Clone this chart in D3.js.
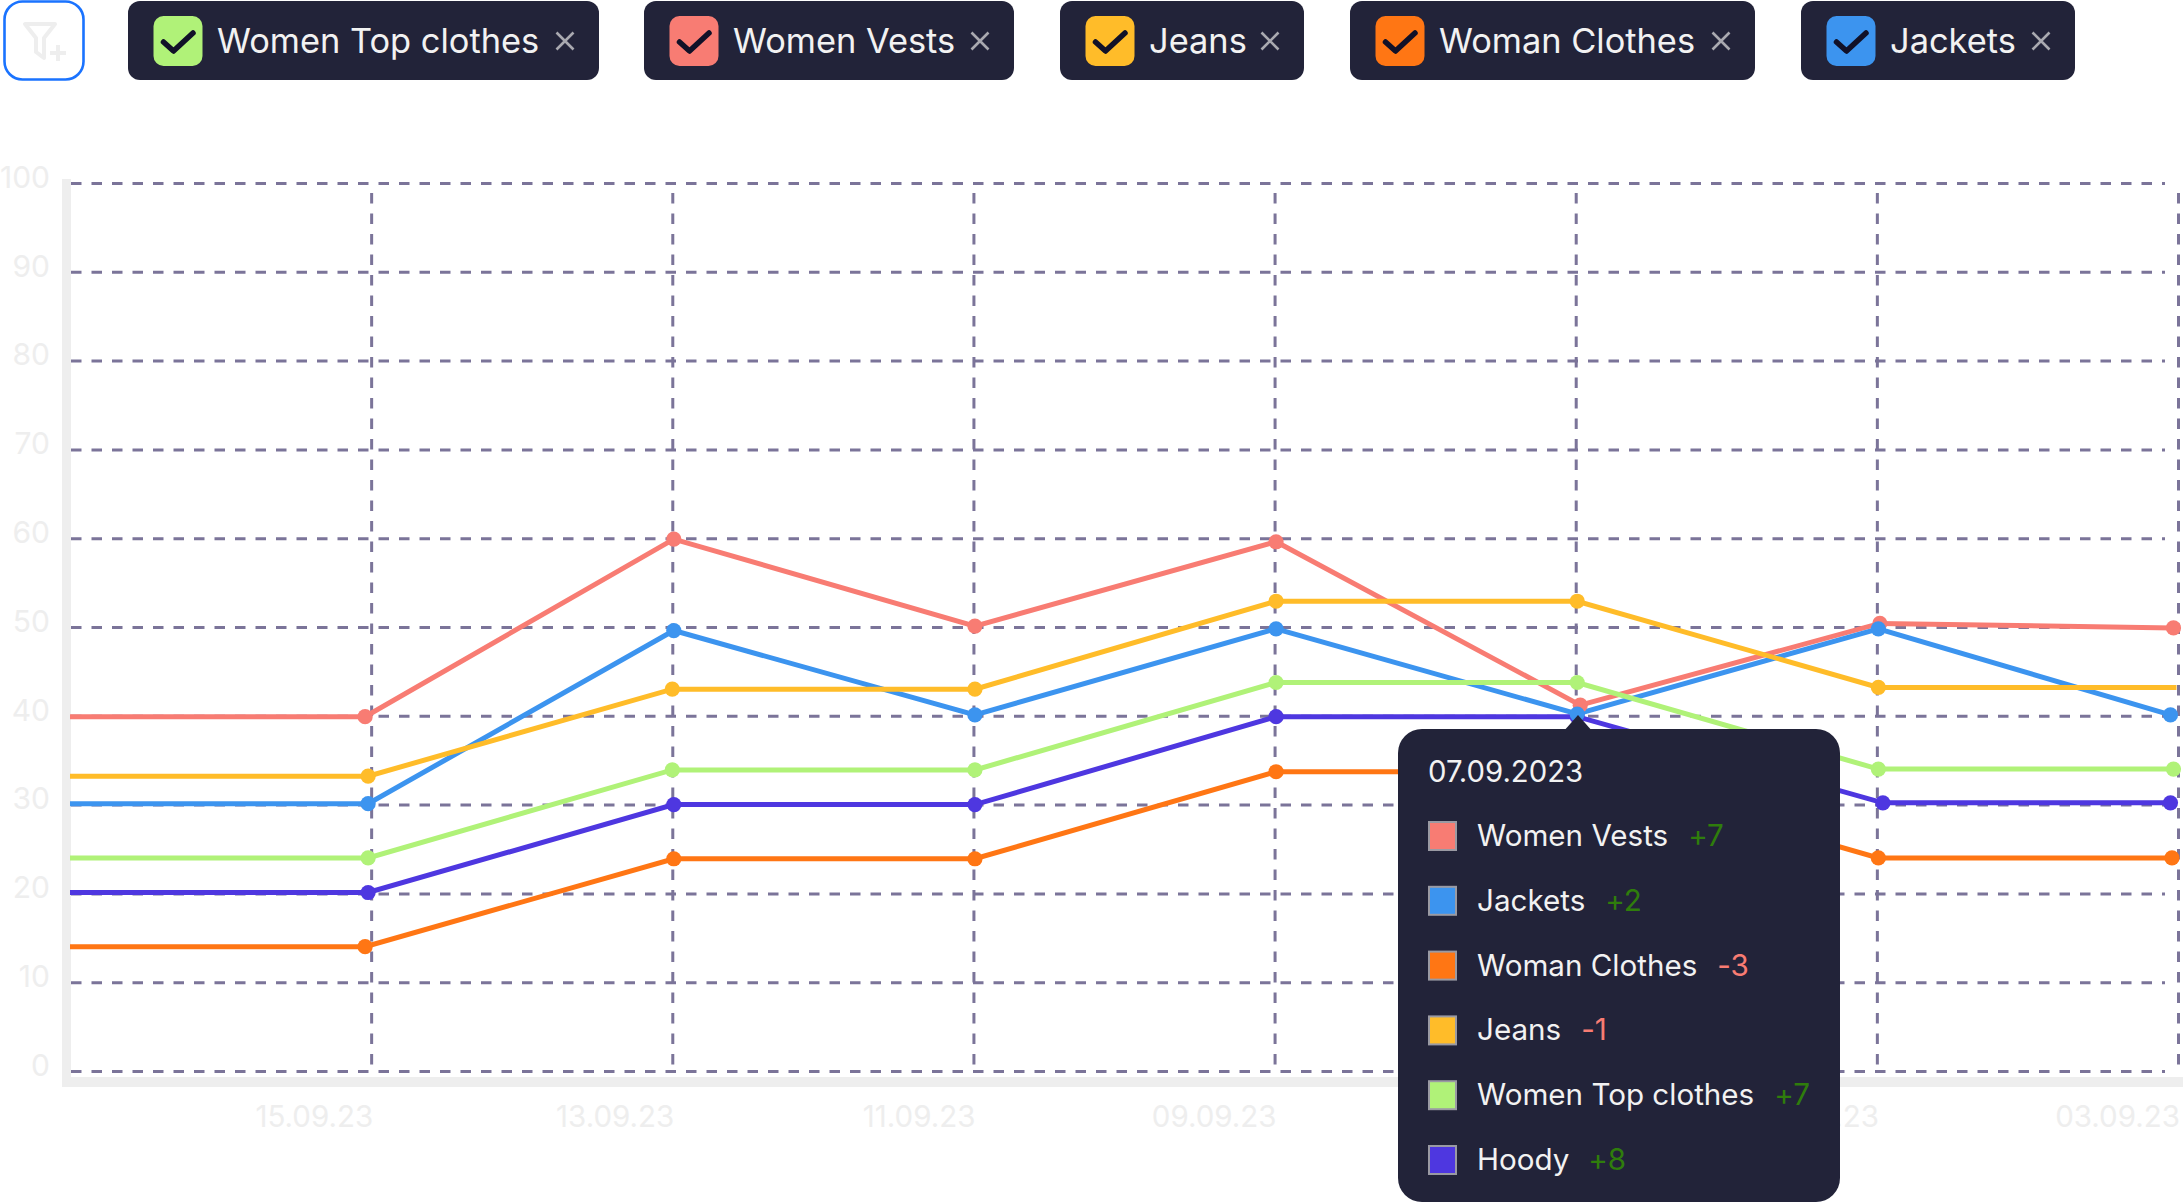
<!DOCTYPE html>
<html>
<head>
<meta charset="utf-8">
<title>Clothes chart</title>
<script src="https://cdnjs.cloudflare.com/ajax/libs/d3/7.8.5/d3.min.js"></script>
<style>
html, body { margin: 0; background: #fff; }
svg { display: block; font-family: Inter, sans-serif; }
.grid line { stroke: #7b7499; stroke-width: 3; stroke-dasharray: 10.5 10; }
.axis text { fill: #eeeeee; font-size: 30px; font-family: Inter, sans-serif; }
.axis path { display: none; }
</style>
</head>
<body>
<svg id="chart" width="2183" height="1203"></svg>
<script>
"use strict";

// day of september for each tick, newest on the left
var tickDays = [15, 13, 11, 9, 7, 5, 3];
var tickLabels = ["15.09.23", "13.09.23", "11.09.23", "09.09.23", "07.09.23", "05.09.23", "03.09.23"];
var yTicks = [0, 10, 20, 30, 40, 50, 60, 70, 80, 90, 100];

// series values (first point sits on the left edge)
var vestsDays = [17, 15.04, 12.99, 10.99, 8.99, 6.97, 4.98, 3.03];
var vestsValues = [39.9, 39.9, 59.9, 50.1, 59.6, 41.2, 50.4, 49.9];
var jacketsDays = [17, 15.02, 12.99, 10.99, 8.99, 6.99, 4.99, 3.05];
var jacketsValues = [30.1, 30.1, 49.6, 40.1, 49.8, 40.2, 49.8, 40.1];
var jeansDays = [17, 15.02, 13, 10.99, 8.99, 6.99, 4.99, 3.01];
var jeansValues = [33.2, 33.2, 43, 43, 52.9, 52.9, 43.2, 43.2];
var topDays = [17, 15.02, 13, 10.99, 8.99, 6.99, 4.99, 3.03];
var topValues = [24, 24, 33.9, 33.9, 43.75, 43.75, 34, 34];
var hoodyDays = [17, 15.02, 12.99, 10.99, 8.99, 6.99, 4.96, 3.05];
var hoodyValues = [20.1, 20.1, 30, 30, 39.9, 39.9, 30.2, 30.2];
var clothesDays = [17, 15.04, 12.99, 10.99, 8.99, 6.99, 4.99, 3.04];
var clothesValues = [14, 14, 23.9, 23.9, 33.7, 33.7, 24, 24];

// drawn in this order, later ones on top
var series = [
    {name: "Woman Clothes", color: "#ff7614", days: clothesDays, values: clothesValues},
    {name: "Hoody", color: "#4e37e0", days: hoodyDays, values: hoodyValues},
    {name: "Women Vests", color: "#f87c73", days: vestsDays, values: vestsValues},
    {name: "Jackets", color: "#3c94ef", days: jacketsDays, values: jacketsValues},
    {name: "Jeans", color: "#ffbc29", days: jeansDays, values: jeansValues, noLastDot: true},
    {name: "Women Top clothes", color: "#b0f278", days: topDays, values: topValues}
];

// filter chips along the top
var chipNames = ["Women Top clothes", "Women Vests", "Jeans", "Woman Clothes", "Jackets"];
var chipColors = ["#b0f278", "#f87c73", "#ffbc29", "#ff7614", "#3c94ef"];
var chipLefts = [128, 644, 1060, 1350, 1801];
var chipRights = [599, 1014, 1304, 1755, 2075];

// tooltip rows
var tipDate = "07.09.2023";
var tipNames = ["Women Vests", "Jackets", "Woman Clothes", "Jeans", "Women Top clothes", "Hoody"];
var tipColors = ["#f87c73", "#3c94ef", "#ff7614", "#ffbc29", "#b0f278", "#4e37e0"];
var tipDeltas = ["+7", "+2", "-3", "-1", "+7", "+8"];

var dark = "#222339";
var svg = d3.select("#chart");

var x = d3.scaleLinear().domain([17, 3]).range([70, 2178]);
var y = d3.scaleLinear().domain([0, 100]).range([1071, 183]);

// light frame on the left and the bottom
svg.append("rect").attr("x", 62).attr("y", 179).attr("width", 9).attr("height", 908).attr("fill", "#eeeeee");
svg.append("rect").attr("x", 62).attr("y", 1077).attr("width", 2121).attr("height", 10).attr("fill", "#eeeeee");

var yAxis = d3.axisLeft(y).tickValues(yTicks).tickSize(-2094).tickPadding(0);
var yg = svg.append("g").attr("class", "axis grid").attr("transform", "translate(71,0)").call(yAxis);
yg.selectAll("text").attr("x", -21).attr("dy", "0.14em");

var xAxis = d3.axisBottom(x).tickValues(tickDays)
    .tickFormat(function(d, i) { return tickLabels[i]; })
    .tickSize(0);
var xg = svg.append("g").attr("class", "axis grid").attr("transform", "translate(0,1071)").call(xAxis);
xg.selectAll("line").attr("y1", -878).attr("y2", 0);
xg.selectAll("text").attr("text-anchor", "end").attr("x", 1.5).attr("y", 56).attr("dy", 0).style("font-size", "29.5px");

var line = d3.line()
    .x(function(d) { return x(d.day); })
    .y(function(d) { return y(d.value); });

function pointsOf(s) {
    return s.days.map(function(day, i) { return {day: day, value: s.values[i]}; });
}

svg.append("g").selectAll("path").data(series).enter()
    .append("path")
    .attr("fill", "none")
    .attr("stroke", function(s) { return s.color; })
    .attr("stroke-width", 5)
    .attr("d", function(s) { return line(pointsOf(s)); });

// no dot on the left edge, and jeans has none on the last day
svg.append("g").selectAll("g").data(series).enter()
    .append("g")
    .attr("fill", function(s) { return s.color; })
    .selectAll("circle")
    .data(function(s) {
        var pts = pointsOf(s).slice(1);
        return s.noLastDot ? pts.slice(0, -1) : pts;
    })
    .enter().append("circle")
    .attr("cx", function(d) { return x(d.day); })
    .attr("cy", function(d) { return y(d.value); })
    .attr("r", 7.6);

// filter button
var filterBtn = svg.append("g");
filterBtn.append("rect")
    .attr("x", 4.5).attr("y", 1.5).attr("width", 79).attr("height", 78).attr("rx", 18)
    .attr("fill", "#fff").attr("stroke", "#1a73ff").attr("stroke-width", 2.6);
filterBtn.append("path")
    .attr("d", "M25 24H55L44 38V58L36 52V38Z")
    .attr("fill", "none").attr("stroke", "#eeeeee").attr("stroke-width", 4).attr("stroke-linejoin", "round");
filterBtn.append("path")
    .attr("d", "M50 53H66M58 45V61")
    .attr("fill", "none").attr("stroke", "#eeeeee").attr("stroke-width", 4);

var chips = svg.append("g").selectAll("g").data(chipNames).enter()
    .append("g")
    .attr("transform", function(d, i) { return "translate(" + chipLefts[i] + ",1)"; });
chips.append("rect")
    .attr("width", function(d, i) { return chipRights[i] - chipLefts[i]; })
    .attr("height", 79).attr("rx", 12).attr("fill", dark);
chips.append("rect")
    .attr("x", 25.5).attr("y", 15).attr("width", 49).attr("height", 50).attr("rx", 10)
    .attr("fill", function(d, i) { return chipColors[i]; });
chips.append("path")
    .attr("d", "M35.5 41L45.5 50L65 32")
    .attr("fill", "none").attr("stroke", "#111128").attr("stroke-width", 5.5)
    .attr("stroke-linecap", "round").attr("stroke-linejoin", "round");
chips.append("text")
    .attr("x", 89).attr("y", 52)
    .attr("fill", "#f2f2f2").attr("font-size", 34.4)
    .text(function(d) { return d; });
chips.append("path")
    .attr("transform", function(d, i) { return "translate(" + (chipRights[i] - chipLefts[i] - 34) + ",40)"; })
    .attr("d", "M-8.5 -8.5L8.5 8.5M-8.5 8.5L8.5 -8.5")
    .attr("fill", "none").attr("stroke", "#a9a9b0").attr("stroke-width", 2.6);

// tooltip
var tip = svg.append("g");
tip.append("path").attr("d", "M1563 732L1578 715L1593 732Z").attr("fill", dark);
tip.append("rect")
    .attr("x", 1398).attr("y", 729).attr("width", 442).attr("height", 473).attr("rx", 24).attr("fill", dark);
tip.append("text")
    .attr("x", 1428).attr("y", 782)
    .attr("fill", "#f2f2f2").attr("font-size", 29.3)
    .text(tipDate);

var rows = tip.selectAll("g.row").data(tipNames).enter()
    .append("g").attr("class", "row")
    .attr("transform", function(d, i) { return "translate(0," + (821 + i * 64.8) + ")"; });
rows.append("rect")
    .attr("x", 1429).attr("y", 1).attr("width", 27).attr("height", 28)
    .attr("fill", function(d, i) { return tipColors[i]; })
    .attr("stroke", "#9a9aa3").attr("stroke-width", 2);
var rowText = rows.append("text")
    .attr("x", 1477).attr("y", 25)
    .attr("fill", "#f2f2f2").attr("font-size", 29.6);
rowText.append("tspan").text(function(d) { return d; });
rowText.append("tspan")
    .attr("dx", 20)
    .attr("fill", function(d, i) { return tipDeltas[i].charAt(0) == "+" ? "#2f7d0c" : "#f87c73"; })
    .text(function(d, i) { return tipDeltas[i]; });
</script>
</body>
</html>
